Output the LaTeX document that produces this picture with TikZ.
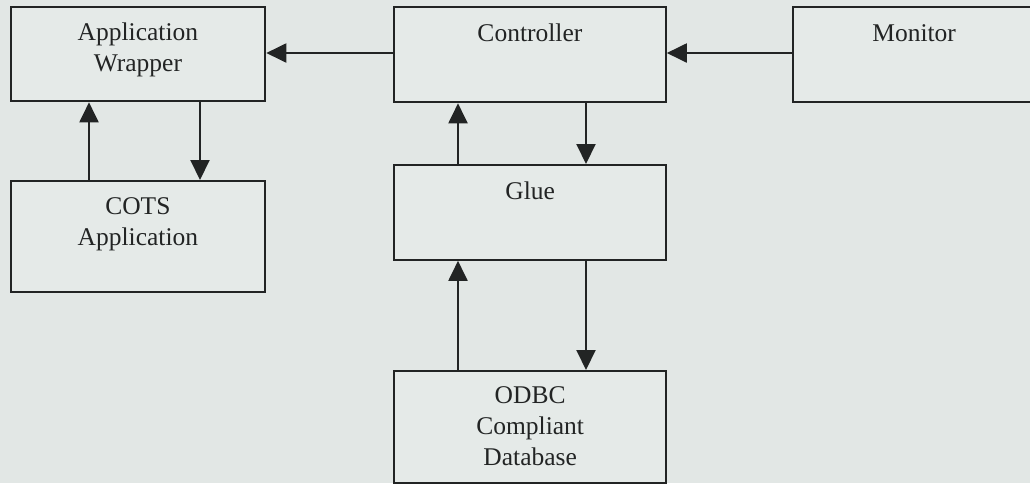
\documentclass[tikz,border=0pt]{standalone}
\usepackage{fontspec}
\setmainfont{Liberation Serif}
\usetikzlibrary{arrows.meta}
\definecolor{paper}{RGB}{226,231,229}
\definecolor{boxfill}{RGB}{229,234,232}
\definecolor{ink}{RGB}{34,36,36}
\tikzset{
  blockbox/.style={draw=ink, fill=boxfill, line width=2.3pt, inner sep=0pt,
    anchor=north west},
  blocktext/.style={text=ink, align=center, anchor=base, inner sep=0pt,
    font=\fontsize{25.5}{31}\selectfont},
  flow/.style={draw=ink, line width=2pt,
    -{Triangle[length=20pt,width=19pt]}}
}
\begin{document}
\begin{tikzpicture}[x=1pt,y=-1pt]
  \fill[paper] (0,0) rectangle (1030,483);
  \useasboundingbox (0,0) rectangle (1030,483);
  \begin{scope}
  \clip (0,0) rectangle (1030,483);
  % blocks
  \node[blockbox, minimum width=254.5pt, minimum height=94pt] (wrap) at (9.5,6) {};
  \node[blockbox, minimum width=254.5pt, minimum height=111pt] (cots) at (9.5,180) {};
  \node[blockbox, minimum width=271.5pt, minimum height=95pt] (ctrl) at (393,6) {};
  \node[blockbox, minimum width=272pt, minimum height=94.5pt] (glue) at (393,164) {};
  \node[blockbox, minimum width=272pt, minimum height=111.5pt] (odbc) at (393,370) {};
  \node[blockbox, minimum width=243pt, minimum height=94.5pt] (mon) at (791.5,6) {};
  % captions, anchored on the baseline of their last line
  \node[blocktext] (wrapt) at ([yshift=-65.5pt]wrap.north) {Application\\Wrapper};
  \node[blocktext] (cotst) at ([yshift=-65.5pt]cots.north) {COTS\\Application};
  \node[blocktext] (ctrlt) at ([yshift=-35pt]ctrl.north) {Controller};
  \node[blocktext] (gluet) at ([yshift=-35pt]glue.north) {Glue};
  \node[blocktext] (odbct) at ([yshift=-95pt]odbc.north) {ODBC\\Compliant\\Database};
  \node[blocktext] (mont) at ([yshift=-35pt]mon.north) {Monitor};
  \end{scope}
  % connectors
  \draw[flow] (ctrl.west |- 0,53) -- (wrap.east |- 0,53);
  \draw[flow] (mon.west |- 0,53) -- (ctrl.east |- 0,53);
  \draw[flow] ([xshift=79.5pt]cots.north west) -- ([xshift=79.5pt]wrap.south west);
  \draw[flow] ([xshift=190.5pt]wrap.south west) -- ([xshift=190.5pt]cots.north west);
  \draw[flow] ([xshift=65pt]glue.north west) -- ([xshift=65pt]ctrl.south west);
  \draw[flow] ([xshift=193pt]ctrl.south west) -- ([xshift=193pt]glue.north west);
  \draw[flow] ([xshift=65pt]odbc.north west) -- ([xshift=65pt]glue.south west);
  \draw[flow] ([xshift=193pt]glue.south west) -- ([xshift=193pt]odbc.north west);
\end{tikzpicture}
\end{document}
